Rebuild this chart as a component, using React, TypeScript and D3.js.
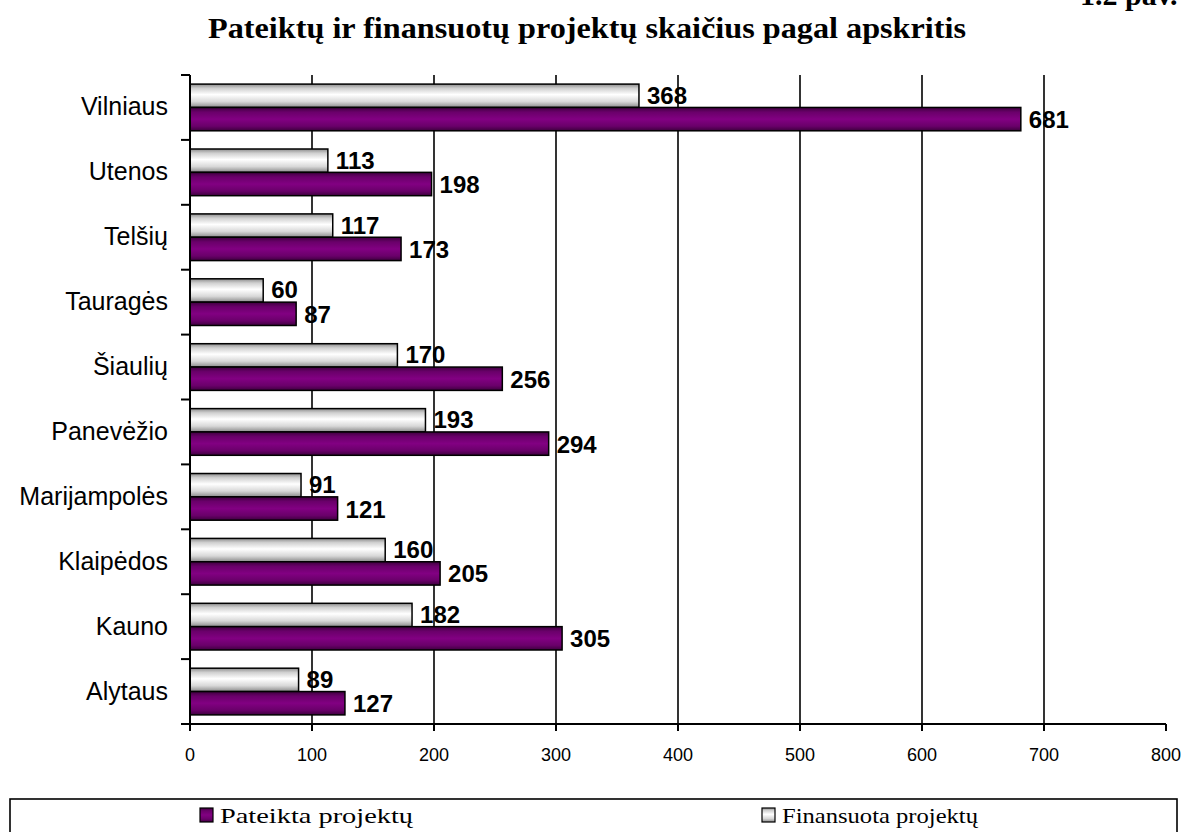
import React from "react";
import * as d3 from "d3";

const categories = ["Vilniaus", "Utenos", "Telšių", "Tauragės", "Šiaulių", "Panevėžio", "Marijampolės", "Klaipėdos", "Kauno", "Alytaus"];
const finansuota = [368, 113, 117, 60, 170, 193, 91, 160, 182, 89];
const pateikta = [681, 198, 173, 87, 256, 294, 121, 205, 305, 127];
const xTicks = [0, 100, 200, 300, 400, 500, 600, 700, 800];
const seriesKeys = ["fin", "pat"];
const seriesNames = ["Pateikta projektų", "Finansuota projektų"];
const title = "Pateiktų ir finansuotų projektų skaičius pagal apskritis";
const figLabel = "1.2 pav.";

const W = 1181, H = 832;
const L = 190, R = 1166, T = 75, B = 724;

export default function App() {
  const x = d3.scaleLinear().domain([0, 800]).range([L, R]);
  const y = d3.scaleBand<string>().domain(categories).range([T, B]).padding(0);
  const sub = d3.scaleBand<string>().domain(seriesKeys).range([0, y.bandwidth()]).paddingInner(0).paddingOuter(0.39);
  const bh = sub.bandwidth();
  const sans = "'Liberation Sans', Arial, sans-serif";
  const serif = "'Liberation Serif', 'Times New Roman', serif";
  const boundaries = d3.range(categories.length + 1).map((i) => T + i * y.step());

  return (
    <svg width={W} height={H} style={{ position: "absolute", left: 0, top: 0, background: "#fff" }}>
      <defs>
        <linearGradient id="gGrey" x1="0" y1="0" x2="0" y2="1">
          <stop offset="0" stopColor="#8c8c8c" />
          <stop offset="0.18" stopColor="#d0d0d0" />
          <stop offset="0.45" stopColor="#ffffff" />
          <stop offset="0.75" stopColor="#d8d8d8" />
          <stop offset="1" stopColor="#8a8a8a" />
        </linearGradient>
        <linearGradient id="gPurple" x1="0" y1="0" x2="0" y2="1">
          <stop offset="0" stopColor="#3e003e" />
          <stop offset="0.2" stopColor="#6a006a" />
          <stop offset="0.5" stopColor="#820082" />
          <stop offset="0.8" stopColor="#6a006a" />
          <stop offset="1" stopColor="#3e003e" />
        </linearGradient>
      </defs>

      <text x={1080} y={5} fontFamily={serif} fontWeight="bold" fontSize={30}>{figLabel}</text>
      <text x={587} y={38} textAnchor="middle" fontFamily={serif} fontWeight="bold" fontSize={30} textLength={758} lengthAdjust="spacingAndGlyphs">{title}</text>

      {xTicks.filter((t) => t > 0 && t < 800).map((t) => (
        <line key={"g" + t} x1={x(t)} x2={x(t)} y1={T} y2={B} stroke="#000" strokeWidth={1.6} />
      ))}

      {categories.map((c, i) => {
        const y0 = y(c)!;
        const yf = y0 + sub("fin")!;
        const yp = y0 + sub("pat")!;
        return (
          <g key={c}>
            <rect x={x(0)} y={yf} width={x(finansuota[i]) - x(0)} height={bh} fill="url(#gGrey)" stroke="#000" strokeWidth={1.5} />
            <rect x={x(0)} y={yp} width={x(pateikta[i]) - x(0)} height={bh} fill="url(#gPurple)" stroke="#000" strokeWidth={1.5} />
            <text x={x(finansuota[i]) + 8} y={yf + bh / 2 + 8} fontFamily={sans} fontWeight="bold" fontSize={24}>{finansuota[i]}</text>
            <text x={x(pateikta[i]) + 8} y={yp + bh / 2 + 9} fontFamily={sans} fontWeight="bold" fontSize={24}>{pateikta[i]}</text>
            <text x={168} y={y0 + y.bandwidth() / 2 + 8} textAnchor="end" fontFamily={sans} fontSize={25}>{c}</text>
          </g>
        );
      })}

      <line x1={L} x2={L} y1={T} y2={B} stroke="#000" strokeWidth={2} />
      {boundaries.map((b, i) => (
        <line key={"yt" + i} x1={181} x2={L} y1={b} y2={b} stroke="#000" strokeWidth={2} />
      ))}
      <line x1={L} x2={R} y1={B} y2={B} stroke="#000" strokeWidth={2} />
      {xTicks.map((t) => (
        <g key={"xt" + t}>
          <line x1={x(t)} x2={x(t)} y1={B} y2={B + 7} stroke="#000" strokeWidth={2} />
          <text x={x(t)} y={761} textAnchor="middle" fontFamily={sans} fontSize={18}>{t}</text>
        </g>
      ))}

      <rect x={10} y={799} width={1167} height={50} fill="none" stroke="#000" strokeWidth={1.6} />
      <rect x={200} y={808} width={13} height={14} fill="url(#gPurple)" stroke="#000" strokeWidth={1.2} />
      <text x={220} y={823} fontFamily={serif} fontSize={22} textLength={193} lengthAdjust="spacingAndGlyphs">{seriesNames[0]}</text>
      <rect x={762} y={808} width={13} height={14} fill="url(#gGrey)" stroke="#000" strokeWidth={1.2} />
      <text x={782} y={823} fontFamily={serif} fontSize={22} textLength={196} lengthAdjust="spacingAndGlyphs">{seriesNames[1]}</text>
    </svg>
  );
}
